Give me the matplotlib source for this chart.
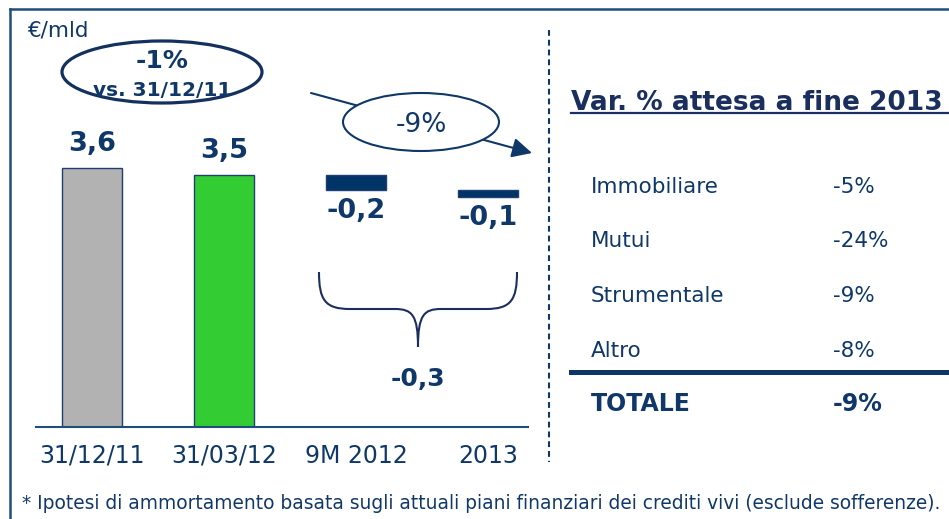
import numpy as np
import matplotlib.pyplot as plt
from matplotlib.patches import Ellipse, PathPatch
from matplotlib.path import Path

# stock of loans (EUR bn) and expected drops
periods = ['31/12/11', '31/03/12', '9M 2012', '2013']
values = [3.6, 3.5, -0.2, -0.1]
value_labels = ['3,6', '3,5', '-0,2', '-0,1']
bar_colors = ['#b2b2b2', '#33cc33', '#003366', '#003366']
total_drop = '-0,3'
ytd_change = ['-1%', 'vs. 31/12/11']
year_change = '-9%'

# expected % change by segment at end of 2013
segments = ['Immobiliare', 'Mutui', 'Strumentale', 'Altro']
segment_changes = ['-5%', '-24%', '-9%', '-8%']
total_label = 'TOTALE'
total_change = '-9%'

footnote = ('* Ipotesi di ammortamento basata sugli attuali piani finanziari '
            'dei crediti vivi (esclude sofferenze).')

NAVY = '#0f3868'
DARK = '#1b2f5e'
FRAME = '#1f4e79'

W, H = 949, 519
fig = plt.figure(figsize=(W / 100, H / 100), dpi=100)

# waterfall: positive values are levels, negative ones hang from the running level
bottoms, heights = [], []
level = 0.0
for v in values:
    if v >= 0:
        level = v
        bottoms.append(0.0)
    else:
        level += v
        bottoms.append(level)
    heights.append(abs(v))

px_per_unit = 71.9
ax = fig.add_axes([36 / W, (H - 427) / H, 492 / W, 360 / H])
x = np.arange(len(periods))
ax.bar(x, heights, bottom=bottoms, width=0.455, color=bar_colors,
       edgecolor='#1f3f73', linewidth=1.0)
ax.set_xlim(-0.424, 3.303)
ax.set_ylim(0, 360 / px_per_unit)
for s in ['top', 'right', 'left']:
    ax.spines[s].set_visible(False)
ax.spines['bottom'].set_color(FRAME)
ax.spines['bottom'].set_linewidth(1.5)
ax.set_yticks([])
ax.set_xticks(x)
ax.set_xticklabels(periods, fontsize=17, color=NAVY)
ax.tick_params(axis='x', length=0, pad=12)
# levels get their label on top, drops underneath
for xi, b, h, v, lab in zip(x, bottoms, heights, values, value_labels):
    if v >= 0:
        ax.annotate(lab, (xi, b + h), xytext=(0, 8), textcoords='offset points',
                    ha='center', va='bottom', fontsize=19.5, fontweight='bold',
                    color=NAVY)
    else:
        ax.annotate(lab, (xi, b), xytext=(0, -6), textcoords='offset points',
                    ha='center', va='top', fontsize=19.5, fontweight='bold',
                    color=NAVY)

# overlay in pixel units for the annotations and the side table
ov = fig.add_axes([0, 0, 1, 1])
ov.set_xlim(0, W)
ov.set_ylim(H, 0)
ov.axis('off')
ov.patch.set_alpha(0)

ov.plot([10, W], [9, 9], color=FRAME, lw=1.8, solid_capstyle='projecting')
ov.plot([10, 10], [9, H], color=FRAME, lw=1.8, solid_capstyle='projecting')

ov.text(27, 37, '€/mld', fontsize=15.5, color=NAVY, va='baseline')

ov.add_patch(Ellipse((162, 72), 200, 62, fc='white', ec='#14305e', lw=2.3))
ov.text(162, 68, ytd_change[0], fontsize=18, fontweight='bold', color=NAVY,
        ha='center', va='baseline')
ov.text(162, 96, ytd_change[1], fontsize=14.5, fontweight='bold', color=NAVY,
        ha='center', va='baseline')

ov.annotate('', xy=(532, 153), xytext=(311, 93),
            arrowprops=dict(arrowstyle='-|>,head_length=0.6,head_width=0.3',
                            color=NAVY, lw=1.5, mutation_scale=20,
                            shrinkA=0, shrinkB=0))
ov.add_patch(Ellipse((421, 122), 156, 58, fc='white', ec=NAVY, lw=1.5,
                     zorder=3))
ov.text(421, 132, year_change, fontsize=19, color=NAVY, ha='center',
        va='baseline', zorder=4)

# curly brace under the two drops
L, R, top, mid, tip = 319, 517, 272, 309, 347
cx = (L + R) / 2
verts, codes = [], []
for e, sgn in ((L, 1), (R, -1)):
    verts += [(e, top), (e, mid - 9), (e + sgn * 6, mid), (e + sgn * 31, mid),
              (cx - sgn * 23, mid), (cx - sgn * 6, mid), (cx, mid + 6), (cx, tip)]
    codes += [Path.MOVETO, Path.CURVE4, Path.CURVE4, Path.CURVE4,
              Path.LINETO, Path.CURVE4, Path.CURVE4, Path.CURVE4]
ov.add_patch(PathPatch(Path(verts, codes), fc='none', ec=DARK, lw=1.5))
ov.text(cx, 386, total_drop, fontsize=18, fontweight='bold', color=NAVY,
        ha='center', va='baseline')

ov.plot([549, 549], [30, 462], color=NAVY, lw=1.5, ls=(0, (2.8, 1.9)))

# side table
ov.text(571, 110, 'Var. % attesa a fine 2013', fontsize=19, fontweight='bold',
        color=DARK, va='baseline')
ov.plot([571, W], [112.5, 112.5], color=DARK, lw=1.6)
row_base = [193, 247, 302, 357]
for yb, name, pct in zip(row_base, segments, segment_changes):
    ov.text(591, yb, name, fontsize=15.5, color=NAVY, va='baseline')
    ov.text(833, yb, pct, fontsize=15.5, color=NAVY, va='baseline')
ov.plot([571, W], [372, 372], color='#0f3566', lw=3.6)
ov.text(591, 411, total_label, fontsize=17, fontweight='bold', color=NAVY,
        va='baseline')
ov.text(833, 411, total_change, fontsize=17, fontweight='bold', color=NAVY,
        va='baseline')

ov.text(22, 509, footnote, fontsize=13.4, color=NAVY, va='baseline')

fig.savefig('out.png', dpi=100)
